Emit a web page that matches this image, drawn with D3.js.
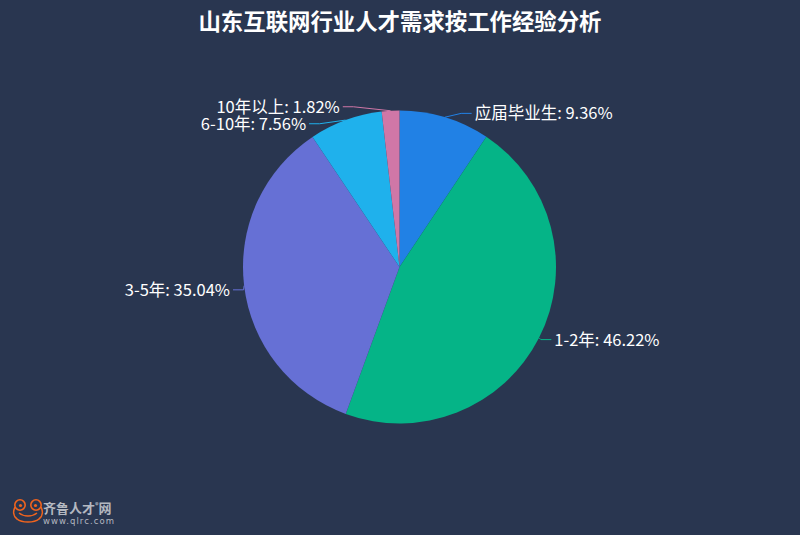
<!DOCTYPE html>
<html>
<head>
<meta charset="utf-8">
<script src="https://cdn.jsdelivr.net/npm/d3@7/dist/d3.min.js"></script>
<style>
  html, body { margin: 0; padding: 0; background: #293650; }
  svg { display: block; }
</style>
</head>
<body>
<svg id="chart" width="800" height="535"></svg>
<script>
// ---- data ----
const title = "山东互联网行业人才需求按工作经验分析";
const categories = ["应届毕业生", "1-2年", "3-5年", "6-10年", "10年以上"];
const values = [9.36, 46.22, 35.04, 7.56, 1.82];
const colors = ["#2181e5", "#05b487", "#6670d5", "#1fb1ec", "#d077a7"];

// ---- layout ----
const W = 800, H = 535;
const cx = 399.5, cy = 267, R = 156.5;
const len = 4, len2 = 10.5, labelH = 17;
const labelFont = "16.5px 'Noto Sans CJK SC', 'Noto Sans', sans-serif";

const svg = d3.select("#chart");
svg.append("rect").attr("width", W).attr("height", H).attr("fill", "#293650");

svg.append("text")
  .attr("x", W / 2).attr("y", 30)
  .attr("text-anchor", "middle")
  .attr("fill", "#ffffff")
  .style("font", "bold 22.4px 'Noto Sans CJK SC', sans-serif")
  .text(title);

const pie = d3.pie().sort(null).value(d => d).startAngle(0).endAngle(2 * Math.PI);
const arcs = pie(values);
const arc = d3.arc().innerRadius(0).outerRadius(R);

const g = svg.append("g").attr("transform", `translate(${cx},${cy})`);
g.selectAll("path.slice").data(arcs).enter().append("path")
  .attr("class", "slice")
  .attr("d", arc)
  .attr("fill", (d, i) => colors[i]);

// ---- label layout (ECharts-4 style) ----
const layouts = arcs.map((a, i) => {
  const mid = (a.startAngle + a.endAngle) / 2;
  const dx = Math.sin(mid), dy = -Math.cos(mid);
  const x1 = cx + R * dx, y1 = cy + R * dy;
  const x2 = x1 + dx * len, y2 = y1 + dy * len;
  const x3 = x2 + (dx < 0 ? -1 : 1) * len2, y3 = y2;
  return {
    i, x: x3 + (dx < 0 ? -5 : 5), y: y3, height: labelH, len, len2,
    points: [[x1, y1], [x2, y2], [x3, y3]], left: dx < 0
  };
});

function adjustSingleSide(list, dir) {
  list.sort((a, b) => a.y - b.y);
  function shiftDown(start, end, delta) {
    for (let j = start; j < end; j++) {
      list[j].y += delta;
      if (j > start && j + 1 < end && list[j + 1].y > list[j].y + list[j].height) {
        shiftUp(j, delta / 2);
        return;
      }
    }
    shiftUp(end - 1, delta / 2);
  }
  function shiftUp(end, delta) {
    for (let j = end; j >= 0; j--) {
      list[j].y -= delta;
      if (j > 0 && list[j].y > list[j - 1].y + list[j - 1].height) break;
    }
  }
  function changeX(sub, isDown) {
    let last = isDown ? Number.MAX_VALUE : 0;
    for (let k = 0; k < sub.length; k++) {
      const deltaY = Math.abs(sub[k].y - cy);
      const L = sub[k].len, L2 = sub[k].len2;
      let deltaX = deltaY < R + L
        ? Math.sqrt((R + L + L2) * (R + L + L2) - deltaY * deltaY)
        : Math.abs(sub[k].x - cx);
      if (isDown && deltaX >= last) deltaX = last - 10;
      if (!isDown && deltaX <= last) deltaX = last + 10;
      sub[k].x = cx + deltaX * dir;
      last = deltaX;
    }
  }
  let lastY = 0;
  for (let i = 0; i < list.length; i++) {
    const delta = list[i].y - lastY;
    if (delta < 0) shiftDown(i, list.length, -delta);
    lastY = list[i].y + list[i].height;
  }
  const up = [], down = [];
  list.forEach(l => (l.y >= cy ? down : up).push(l));
  changeX(up, false);
  changeX(down, true);
}
adjustSingleSide(layouts.filter(l => !l.left), 1);
adjustSingleSide(layouts.filter(l => l.left), -1);
layouts.forEach(l => {
  const p = l.points;
  const dist = p[1][0] - p[2][0];
  p[2][0] = l.left ? l.x + 3 : l.x - 3;
  p[1][1] = p[2][1] = l.y;
  p[1][0] = p[2][0] + dist;
});
layouts.sort((a, b) => a.i - b.i);

const line = d3.line();
svg.selectAll("path.lbl").data(layouts).enter().append("path")
  .attr("class", "lbl")
  .attr("d", d => line(d.points))
  .attr("fill", "none")
  .attr("stroke", d => colors[d.i])
  .attr("stroke-width", 1);

svg.selectAll("text.lbl").data(layouts).enter().append("text")
  .attr("class", "lbl")
  .attr("x", d => d.x)
  .attr("y", d => d.y)
  .attr("dy", "0.36em")
  .attr("text-anchor", d => d.left ? "end" : "start")
  .attr("fill", "#ffffff")
  .style("font", labelFont)
  .text(d => `${categories[d.i]}: ${values[d.i].toFixed(2)}%`);

// ---- watermark ----
const wm = svg.append("g").attr("transform", "translate(12,499)");
const frog = "#f0641e";
wm.append("path")
  .attr("d", "M3,8 C1,12 1,17 5,20 C10,24 22,24 27,20 C31,17 31,12 29,8")
  .attr("fill", "none").attr("stroke", frog).attr("stroke-width", 1.6);
wm.append("circle").attr("cx", 8).attr("cy", 6).attr("r", 5.2)
  .attr("fill", "none").attr("stroke", frog).attr("stroke-width", 1.6);
wm.append("circle").attr("cx", 24).attr("cy", 6).attr("r", 5.2)
  .attr("fill", "none").attr("stroke", frog).attr("stroke-width", 1.6);
wm.append("circle").attr("cx", 8.5).attr("cy", 6.5).attr("r", 1.6).attr("fill", frog);
wm.append("circle").attr("cx", 23.5).attr("cy", 6.5).attr("r", 1.6).attr("fill", frog);
wm.append("path")
  .attr("d", "M7,14 C12,18 20,18 25,14")
  .attr("fill", "none").attr("stroke", frog).attr("stroke-width", 1.4);

svg.append("text")
  .attr("x", 43).attr("y", 512.5)
  .attr("fill", "#b4b8c0")
  .style("font", "bold 13px 'Noto Sans CJK SC', sans-serif")
  .text("齐鲁人才")
  .append("tspan").attr("dy", -5).style("font-size", "7px").text("®")
  .clone(true).attr("dy", 5).style("font-size", "13px").text("网");

svg.append("text")
  .attr("x", 43).attr("y", 524)
  .attr("fill", "#b4b8c0")
  .attr("textLength", 71)
  .style("font", "8.5px 'DejaVu Sans', sans-serif")
  .text("www.qlrc.com");
</script>
</body>
</html>
